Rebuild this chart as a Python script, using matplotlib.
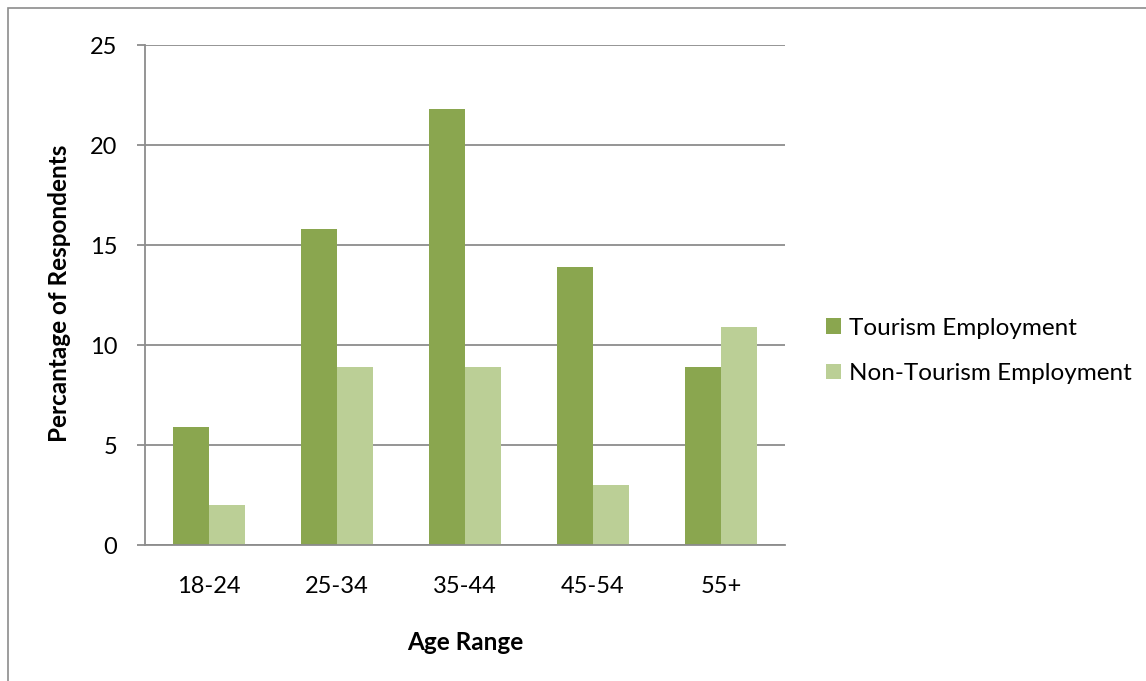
import numpy as np
import matplotlib
matplotlib.use("Agg")
import matplotlib.pyplot as plt
from matplotlib.patches import Rectangle

plt.rcParams['font.family'] = ['Lato', 'DejaVu Sans']

age_ranges = ["18-24", "25-34", "35-44", "45-54", "55+"]
tourism = [5.9, 15.8, 21.8, 13.9, 8.9]
non_tourism = [2.0, 8.9, 8.9, 3.0, 10.9]

dark_green = "#8aa64f"
light_green = "#bbcf96"
grid_grey = "#8c8c8c"

fig = plt.figure(figsize=(11.46, 6.81), dpi=100)
ax = fig.add_axes([145 / 1146, 1 - 545 / 681, 640 / 1146, 500 / 681])

x = np.arange(len(age_ranges))
width = 0.285
ax.bar(x - width / 2, tourism, width, color=dark_green, label="Tourism Employment", zorder=2)
ax.bar(x + width / 2, non_tourism, width, color=light_green, label="Non-Tourism Employment", zorder=2)

ax.set_xlim(-0.5, len(age_ranges) - 0.5)
ax.set_ylim(0, 25)
ax.set_yticks(range(0, 26, 5))
ax.set_xticks(x)
ax.set_xticklabels(age_ranges)
ax.yaxis.grid(True, color=grid_grey, linewidth=1.3, zorder=1)
ax.set_axisbelow(True)

for side in ["top", "right"]:
    ax.spines[side].set_visible(False)
ax.spines["left"].set_color(grid_grey)
ax.spines["bottom"].set_color(grid_grey)
ax.spines["left"].set_linewidth(1.3)
ax.spines["bottom"].set_linewidth(1.3)

ax.tick_params(axis="y", length=6, width=1.3, color=grid_grey, labelsize=17, pad=14)
ax.tick_params(axis="x", length=0, labelsize=17, pad=22)

ax.set_xlabel("Age Range", fontsize=17.5, fontweight="bold", labelpad=25)
fig.text(60 / 1146, 1 - 293 / 681, "Percantage of Respondents", rotation=90,
         ha="center", va="center", fontsize=17.5, fontweight="bold")

ax.legend(loc="center left", bbox_to_anchor=(804 / 1146, 1 - 351 / 681),
          bbox_transform=fig.transFigure, frameon=False, fontsize=17.5,
          handlelength=0.62, handleheight=0.62, handletextpad=0.35, labelspacing=1.0)

# chart border
fig.patches.append(Rectangle((8 / 1146, -0.1), 1.2, 1 - 8 / 681 + 0.1,
                             transform=fig.transFigure, fill=False,
                             edgecolor="#8c8c8c", linewidth=1.2))

fig.savefig("out.png", dpi=100)
